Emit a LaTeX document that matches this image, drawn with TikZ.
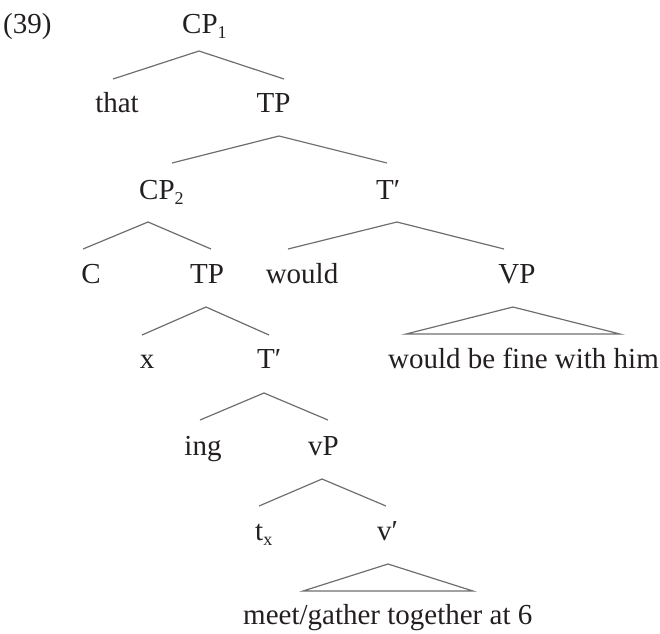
\documentclass[tikz,border=0pt]{standalone}
\usepackage{fontspec}
\setmainfont{Liberation Serif}
\definecolor{linegray}{HTML}{6E6E6E}
\definecolor{txt}{HTML}{231F20}
\newcommand\lowsub[1]{\raisebox{-0.2em}{\fontsize{18}{18}\selectfont #1}}
\begin{document}
\begin{tikzpicture}[x=1pt,y=-1pt,
  lbl/.style={inner sep=0pt, text=txt, font=\fontsize{29}{34}\selectfont},
  br/.style={draw=linegray, line width=1.2pt, line join=miter}]
\useasboundingbox (0,0) rectangle (660,633);
% labels
\node[lbl, anchor=base west] (ex) at (3,33) {(39)};
\node[lbl, anchor=base west] (cp1) at (182,33) {CP\lowsub{1}};
\node[lbl, anchor=base] (that) at (117,112) {that};
\node[lbl, anchor=base] (tp1) at (273.5,112) {TP};
\node[lbl, anchor=base west] (cp2) at (139,199) {CP\lowsub{2}};
\node[lbl, anchor=base west] (tbar1) at (376,199) {T\char"2032};
\node[lbl, anchor=base] (c) at (91,283) {C};
\node[lbl, anchor=base] (tp2) at (207,283) {TP};
\node[lbl, anchor=base] (would) at (302,283) {would};
\node[lbl, anchor=base] (vp) at (517,283) {VP};
\node[lbl, anchor=base] (x) at (147,368) {x};
\node[lbl, anchor=base west] (tbar2) at (257,368) {T\char"2032};
\node[lbl, anchor=base west] (wbf) at (388,368) {would be fine with him};
\node[lbl, anchor=base] (ing) at (203,455) {ing};
\node[lbl, anchor=base west] (vsp) at (308,455) {vP};
\node[lbl, anchor=base west] (tx) at (255,540) {t\lowsub{x}};
\node[lbl, anchor=base west] (vbar) at (377,540) {v\char"2032};
\node[lbl, anchor=base west] (meet) at (243,624) {meet/gather together at 6};
% branch points
\coordinate (a1) at (199,51);  \coordinate (a1l) at (113,79);  \coordinate (a1r) at (284,79);
\coordinate (a2) at (279,136); \coordinate (a2l) at (172,163); \coordinate (a2r) at (387,163);
\coordinate (a3) at (148,222); \coordinate (a3l) at (83,249);  \coordinate (a3r) at (211,249);
\coordinate (a4) at (397,222); \coordinate (a4l) at (288,249); \coordinate (a4r) at (504,249);
\coordinate (a5) at (206,307); \coordinate (a5l) at (142,335); \coordinate (a5r) at (269,335);
\coordinate (a6) at (513,307); \coordinate (a6l) at (406,334); \coordinate (a6r) at (620,334);
\coordinate (a7) at (264,393); \coordinate (a7l) at (200,420); \coordinate (a7r) at (328,420);
\coordinate (a8) at (322,479); \coordinate (a8l) at (259,506); \coordinate (a8r) at (386,506);
\coordinate (a9) at (388,564); \coordinate (a9l) at (303,591); \coordinate (a9r) at (473,591);
% branches
\draw[br] (a1l) -- (a1) -- (a1r);
\draw[br] (a2l) -- (a2) -- (a2r);
\draw[br] (a3l) -- (a3) -- (a3r);
\draw[br] (a4l) -- (a4) -- (a4r);
\draw[br] (a5l) -- (a5) -- (a5r);
\draw[br] (a6l) -- (a6) -- (a6r) -- cycle;
\draw[br] (a7l) -- (a7) -- (a7r);
\draw[br] (a8l) -- (a8) -- (a8r);
\draw[br] (a9l) -- (a9) -- (a9r) -- cycle;
\end{tikzpicture}
\end{document}
